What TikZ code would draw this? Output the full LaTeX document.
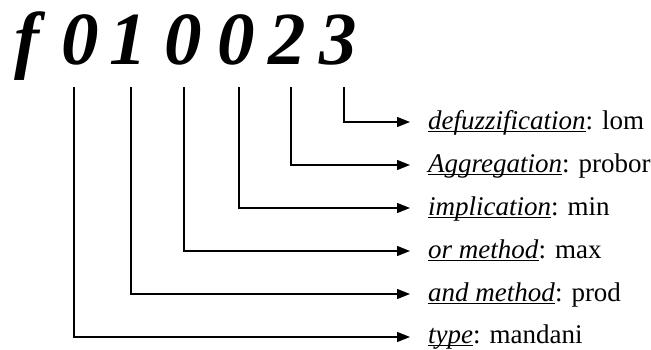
\documentclass[tikz,border=0pt]{standalone}
\usepackage{fontspec}
\setmainfont{Liberation Serif}
\usetikzlibrary{arrows.meta}
\newcommand\myul[1]{\setbox0\hbox{#1}\rlap{\rule[-3.4pt]{\wd0}{1.1pt}}\box0}
\tikzset{
  titlechar/.style={inner sep=0pt, anchor=base, font=\fontsize{75}{75}\selectfont\bfseries\itshape},
  lbl/.style={inner sep=0pt, anchor=base west, font=\fontsize{27}{30}\selectfont},
  conn/.style={line width=1.2pt, -{Triangle[length=13pt,width=10pt]}}
}
\begin{document}
\begin{tikzpicture}[x=1pt,y=-1pt]
\useasboundingbox (0,0) rectangle (651,349);
% title characters
\node[titlechar] (cf) at (27,64) {f};
\node[titlechar] (c1) at (80,64) {0};
\node[titlechar] (c2) at (128,64) {1};
\node[titlechar] (c3) at (183,64) {0};
\node[titlechar] (c4) at (236,64) {0};
\node[titlechar] (c5) at (287,64) {2};
\node[titlechar] (c6) at (338,64) {3};
% line starts
\coordinate (s1) at (74,87);
\coordinate (s2) at (131,87);
\coordinate (s3) at (184,87);
\coordinate (s4) at (239,87);
\coordinate (s5) at (291,87);
\coordinate (s6) at (344,87);
% arrow ends
\coordinate (e6) at (410,122);
\coordinate (e5) at (410,165);
\coordinate (e4) at (410,208);
\coordinate (e3) at (410,251);
\coordinate (e2) at (410,294);
\coordinate (e1) at (410,337);
% labels
\node[lbl] (l6) at (428,129) {\myul{\textit{defuzzification}}: lom};
\node[lbl] (l5) at (428,172) {\myul{\textit{Aggregation}}: probor};
\node[lbl] (l4) at (428,215) {\myul{\textit{implication}}: min};
\node[lbl] (l3) at (428,258) {\myul{\textit{or method}}: max};
\node[lbl] (l2) at (428,301) {\myul{\textit{and method}}: prod};
\node[lbl] (l1) at (428,343) {\myul{\textit{type}}: mandani};
% connectors
\draw[conn] (s6) |- (e6);
\draw[conn] (s5) |- (e5);
\draw[conn] (s4) |- (e4);
\draw[conn] (s3) |- (e3);
\draw[conn] (s2) |- (e2);
\draw[conn] (s1) |- (e1);
\end{tikzpicture}
\end{document}
